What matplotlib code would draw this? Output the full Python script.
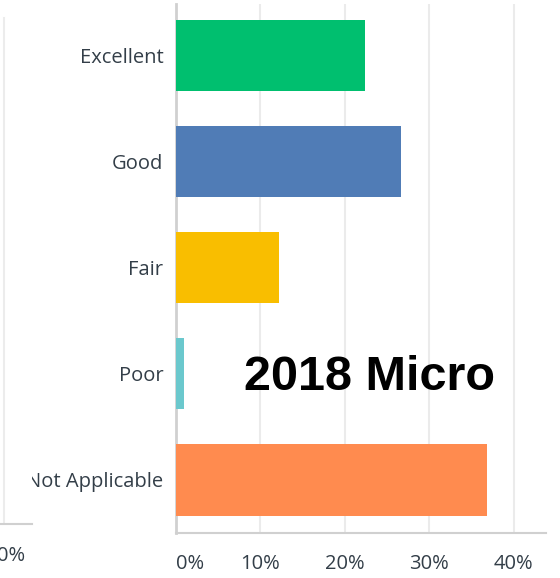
import matplotlib.pyplot as plt
from matplotlib.patches import Rectangle
from matplotlib.lines import Line2D

# Data (percent of responses)
categories = ["Excellent", "Good", "Fair", "Poor", "Not Applicable"]
values = [22.4, 26.6, 12.2, 0.95, 36.8]
colors = ["#00BF6F", "#507CB6", "#F9BE00", "#6BC8CD", "#FF8B4F"]
xticks = [0, 10, 20, 30, 40]
xtick_labels = ["0%", "10%", "20%", "30%", "40%"]

W, H = 560, 578
fig = plt.figure(figsize=(W / 100, H / 100), dpi=100)

# axes placed in pixel coordinates
left, right, top, bottom = 176, 546, 4, 533
ax = fig.add_axes([left / W, 1 - bottom / H, (right - left) / W, (bottom - top) / H])

ypos = list(range(len(categories)))
ax.barh(ypos, values, height=0.67, color=colors, zorder=3)
ax.set_xlim(0, 43.8)
ax.set_ylim(4.5, -0.49)

ax.set_yticks(ypos)
ax.set_yticklabels(categories, fontsize=14.5, color="#333e48", family="Open Sans")
ax.set_xticks(xticks)
ax.set_xticklabels(xtick_labels, fontsize=14.5, color="#333e48", family="Open Sans")
ax.get_xticklabels()[0].set_horizontalalignment("left")
ax.tick_params(axis="y", length=0, pad=9)
ax.tick_params(axis="x", length=0, pad=15)

ax.grid(axis="x", color="#ebebeb", linewidth=1.5, zorder=0)
for s in ["top", "right"]:
    ax.spines[s].set_visible(False)
ax.spines["left"].set_color("#d0d0d0")
ax.spines["left"].set_linewidth(2)
ax.spines["bottom"].set_color("#d0d0d0")
ax.spines["bottom"].set_linewidth(1.5)

fig.text(370 / W, 1 - 377 / H, "2018 Micro", fontsize=35, fontweight="bold",
         family="Liberation Sans", ha="center", va="center", color="black")

# strip of the neighbouring screenshot on the left edge
fig.add_artist(Rectangle((0, 0), 32 / W, 1, transform=fig.transFigure,
                         facecolor="white", edgecolor="none", zorder=10))
fig.add_artist(Line2D([4 / W, 4 / W], [1 - 18 / H, 1 - 524 / H], transform=fig.transFigure,
                      color="#ececec", linewidth=1.5, zorder=11))
fig.add_artist(Line2D([0, 32 / W], [1 - 524 / H, 1 - 524 / H], transform=fig.transFigure,
                      color="#d0d0d0", linewidth=1.5, zorder=11))
fig.add_artist(plt.Text(25 / W, 1 - 556 / H, "0%", ha="right", va="center", fontsize=14.5,
                        color="#333e48", family="Open Sans", transform=fig.transFigure,
                        zorder=12))

fig.savefig("out.png", dpi=100)
